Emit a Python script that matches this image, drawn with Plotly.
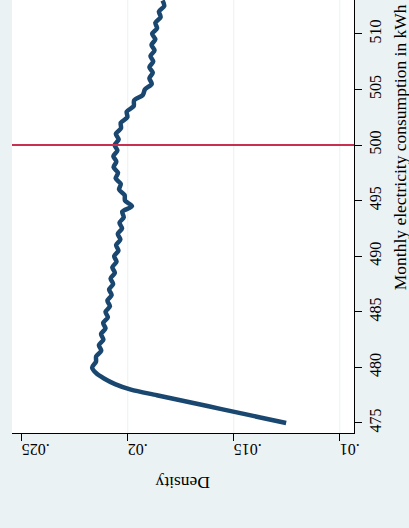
import plotly.graph_objects as go

# Monthly electricity consumption (kWh) grid and estimated kernel density
kwh = [475.0, 475.5, 476.0, 476.5, 477.0, 477.5, 478.0, 478.5, 479.0, 479.5, 480.0, 480.5,
       481.0, 481.5, 482.0, 482.5, 483.0, 483.5, 484.0, 484.5, 485.0, 485.5, 486.0, 486.5,
       487.0, 487.5, 488.0, 488.5, 489.0, 489.5, 490.0, 490.5, 491.0, 491.5, 492.0, 492.5,
       493.0, 493.5, 494.0, 494.5, 495.0, 495.5, 496.0, 496.5, 497.0, 497.5, 498.0, 498.5,
       499.0, 499.5, 500.0, 500.5, 501.0, 501.5, 502.0, 502.5, 503.0, 503.5, 504.0, 504.5,
       505.0, 505.5, 506.0, 506.5, 507.0, 507.5, 508.0, 508.5, 509.0, 509.5, 510.0, 510.5,
       511.0, 511.5, 512.0, 512.5, 513.0]
density = [0.01253, 0.01375, 0.01497, 0.01619, 0.01741, 0.01863, 0.01985, 0.02060, 0.02112, 0.02150, 0.02168, 0.02150,
           0.02149, 0.02125, 0.02136, 0.02115, 0.02126, 0.02105, 0.02116, 0.02094, 0.02105, 0.02084, 0.02096, 0.02076,
           0.02088, 0.02069, 0.02081, 0.02061, 0.02073, 0.02053, 0.02064, 0.02044, 0.02055, 0.02035, 0.02047, 0.02027,
           0.02039, 0.02019, 0.02026, 0.01980, 0.02013, 0.02015, 0.02041, 0.02033, 0.02057, 0.02046, 0.02067, 0.02054,
           0.02068, 0.02049, 0.02062, 0.02043, 0.02056, 0.02032, 0.02033, 0.02002, 0.02005, 0.01972, 0.01970, 0.01929,
           0.01919, 0.01887, 0.01898, 0.01882, 0.01898, 0.01880, 0.01893, 0.01874, 0.01888, 0.01870, 0.01885, 0.01862,
           0.01870, 0.01845, 0.01853, 0.01828, 0.01836]

cutoff = 500
density_ticks = [0.01, 0.015, 0.02, 0.025]
density_labels = [".01", ".015", ".02", ".025"]
grid_ticks = [0.01, 0.015, 0.02]
kwh_ticks = [475, 480, 485, 490, 495, 500, 505, 510]

SERIF = "Liberation Serif, Times New Roman, serif"
BG = "#EAF2F3"
TICK_SIZE = 16
TITLE_SIZE = 17.5

fig = go.Figure()
fig.add_trace(go.Scatter(
    x=density, y=kwh, mode="lines",
    line=dict(color="#1A476F", width=4.5, shape="spline", smoothing=0.8),
    showlegend=False, hoverinfo="skip"))

shapes = []
for g in grid_ticks:
    shapes.append(dict(type="line", xref="x", yref="paper", x0=g, x1=g, y0=0, y1=1,
                       line=dict(color=BG, width=1), layer="below"))
shapes.append(dict(type="line", xref="paper", yref="y", x0=0, x1=1, y0=cutoff, y1=cutoff,
                   line=dict(color="#C8304F", width=2)))

fig.update_layout(
    width=409, height=528,
    margin=dict(l=12, r=55, t=0, b=95),
    paper_bgcolor=BG, plot_bgcolor="white",
    font=dict(family=SERIF, size=TICK_SIZE, color="black"),
    shapes=shapes,
    xaxis=dict(range=[0.02546, 0.00933], tickvals=density_ticks, ticktext=density_labels,
               tickangle=180, ticks="outside", ticklen=7, tickcolor="black",
               showline=True, linecolor="black", linewidth=1, showgrid=False,
               zeroline=False, tickfont=dict(family=SERIF, size=TICK_SIZE)),
    yaxis=dict(range=[474.1, 513.04], tickvals=kwh_ticks, side="right",
               tickangle=-90, ticks="outside", ticklen=7, tickcolor="black",
               showline=True, linecolor="black", linewidth=1, showgrid=False,
               zeroline=False, tickfont=dict(family=SERIF, size=TICK_SIZE)),
    annotations=[
        dict(text="Density", xref="paper", yref="paper", x=0.5, y=-0.1155,
             showarrow=False, textangle=180, font=dict(family=SERIF, size=TITLE_SIZE),
             xanchor="center", yanchor="middle"),
        dict(text="Monthly electricity consumption in kWh", xref="paper", yref="paper",
             x=1.1345, y=0.66, showarrow=False, textangle=-90,
             font=dict(family=SERIF, size=TITLE_SIZE), xanchor="center", yanchor="middle"),
    ],
)

fig.write_html("out.html")
